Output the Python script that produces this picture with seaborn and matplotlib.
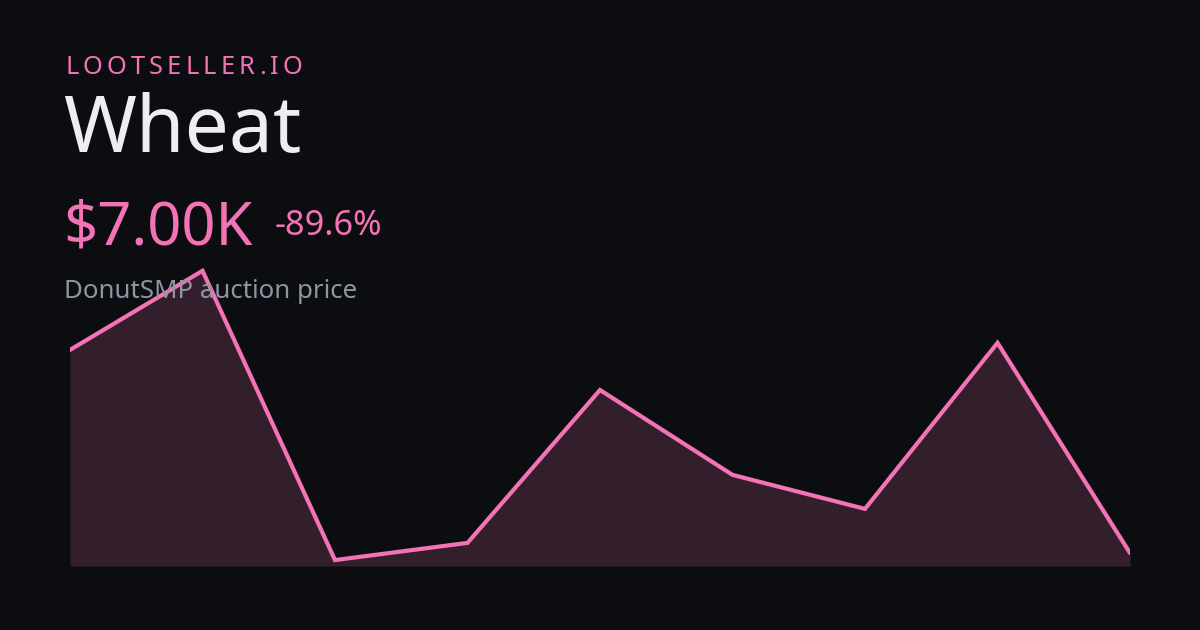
import numpy as np
import pandas as pd
import seaborn as sns
import matplotlib.pyplot as plt

# Chart data (price in $K)
points = list(range(9))
price_k = [67.3, 90.8, 4.9, 10.0, 55.4, 30.2, 20.1, 69.4, 7.0]

brand = "LOOTSELLER.IO"
item = "Wheat"
price_label = "$7.00K"
change_label = "-89.6%"
subtitle = "DonutSMP auction price"

BG = "#0c0d10"
PINK = "#f472b6"
WHITE = "#eceef2"
GREY = "#8f95a5"

sns.set_theme(style="dark")
plt.rcParams['font.family'] = ['Noto Sans', 'DejaVu Sans']

fig = plt.figure(figsize=(12, 6.3), dpi=100, facecolor=BG)
ax = fig.add_axes([70 / 1200, 64 / 630, 1060 / 1200, 306 / 630])
ax.set_facecolor(BG)

df = pd.DataFrame({'t': points, 'price': price_k})
ax.fill_between(df['t'], df['price'], 3.14, color=PINK, alpha=0.17, linewidth=0)
sns.lineplot(data=df, x='t', y='price', color=PINK, linewidth=3, ax=ax,
             solid_joinstyle='miter', solid_capstyle='round')
ax.set_xlim(0, 8)
ax.set_ylim(3.14, 94.0)
ax.axis('off')


def fy(px):
    return 1 - px / 630


# letter-spaced brand text
fig.canvas.draw()
renderer = fig.canvas.get_renderer()
x_px = 65
for ch in brand:
    t = fig.text(x_px / 1200, fy(74), ch, color=PINK, fontsize=18.3, va='baseline')
    w = t.get_window_extent(renderer).width
    x_px += w + 4.2

fig.text(63 / 1200, fy(152), item, color=WHITE, fontsize=56.5, va='baseline')
fig.text(63 / 1200, fy(244), price_label, color=PINK, fontsize=43, va='baseline')
fig.text(275 / 1200, fy(235), change_label, color=PINK, fontsize=24.7, va='baseline')
fig.text(64 / 1200, fy(298), subtitle, color=GREY, fontsize=18.6, va='baseline')

fig.savefig('out.png', dpi=100, facecolor=BG)
